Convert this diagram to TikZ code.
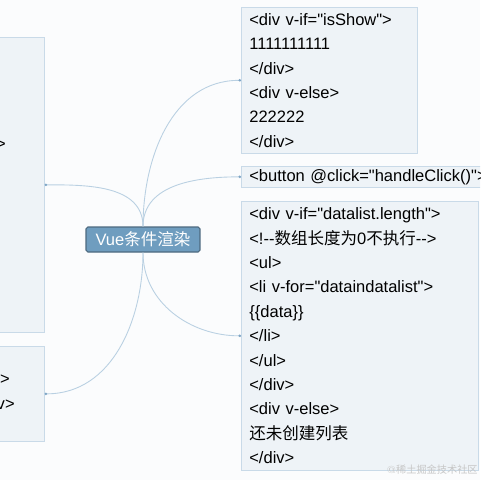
\documentclass[tikz,border=0pt]{standalone}
\usepackage{fontspec}
\newfontfamily\codefont{Liberation Sans}
\newfontfamily\cjk{Noto Sans CJK SC}
\usepackage{tikz}
\usetikzlibrary{arrows.meta,positioning}
\usepackage{xcolor}
\definecolor{paper}{HTML}{FBFCFD}
\definecolor{boxfill}{HTML}{EEF3F7}
\definecolor{boxline}{HTML}{C9DAE8}
\definecolor{hubfill}{HTML}{6F9DBF}
\definecolor{hubline}{HTML}{4D6A80}
\definecolor{link}{HTML}{B9D0E2}
\definecolor{linkdot}{HTML}{7FA6C6}

\begin{document}
\begin{tikzpicture}[x=0.02cm, y=-0.02cm]
\tikzstyle{every node} = [font=\codefont\fontsize{9.4}{13.9}\selectfont, inner sep=0pt]
\tikzstyle{codebox} = [rectangle, draw=boxline, fill=boxfill, anchor=north west, align=left, inner xsep=0.16cm, inner ysep=0pt]
\tikzstyle{hubbox} = [rectangle, draw=hubline, fill=hubfill, text=white, rounded corners=1pt, minimum width=2.28cm, minimum height=0.5cm, line width=0.6pt]
\tikzstyle{branch} = [link, line width=0.5pt, -{Circle[length=1.4pt, color=linkdot]}]
\useasboundingbox (0,0) rectangle (480,480);
\clip (0,0) rectangle (480,480);
\fill[paper] (0,0) rectangle (480,480);
% left side (cut off by the edge)
\node[codebox, minimum width=3.88cm, minimum height=5.9cm] (left1) at (-150,37) {};
\node[codebox, minimum width=3.88cm, minimum height=1.9cm] (left2) at (-150,346) {};
\node[anchor=east] (t1) at (6,145) {>};
\node[anchor=east] (t2) at (10,380) {>};
\node[anchor=east] (t3) at (15,405) {v>};
% hub
\node[hubbox] (hub) at (143,239.5) {Vue{\cjk 条件渲染}};
% right side
\node[codebox, text width=3.2cm, minimum height=2.92cm] (show) at (241,7) {<div v-if="isShow">\\1111111111\\</div>\\<div v-else>\\222222\\</div>};
\node[codebox, text width=4.9cm, minimum height=0.42cm] (click) at (241,166) {<button @click="handleClick()">};
\node[codebox, text width=4.42cm, minimum height=5.38cm] (list) at (241,201) {<div v-if="datalist.length">\\<!--{\cjk 数组长度为}0{\cjk 不执行}-->\\<ul>\\<li v-for="dataindatalist">\\\{\{data\}\}\\</li>\\</ul>\\</div>\\<div v-else>\\{\cjk 还未创建列表}\\</div>};
% branches
\draw[branch] (hub.north) to[out=90, in=180] (show.west);
\draw[branch] (hub.north) to[out=90, in=180] (click.west);
\draw[branch] (hub.north) to[out=90, in=0] (left1.east);
\draw[branch] (hub.south) to[out=-90, in=180] (list.west);
\draw[branch] (hub.south) to[out=-90, in=0] (left2.east);
% watermark
\node[anchor=east, text=black!22, font=\fontsize{5.8}{7}\selectfont] (mark) at (478,470) {@{\cjk 稀土掘金技术社区}};
\end{tikzpicture}
\end{document}
